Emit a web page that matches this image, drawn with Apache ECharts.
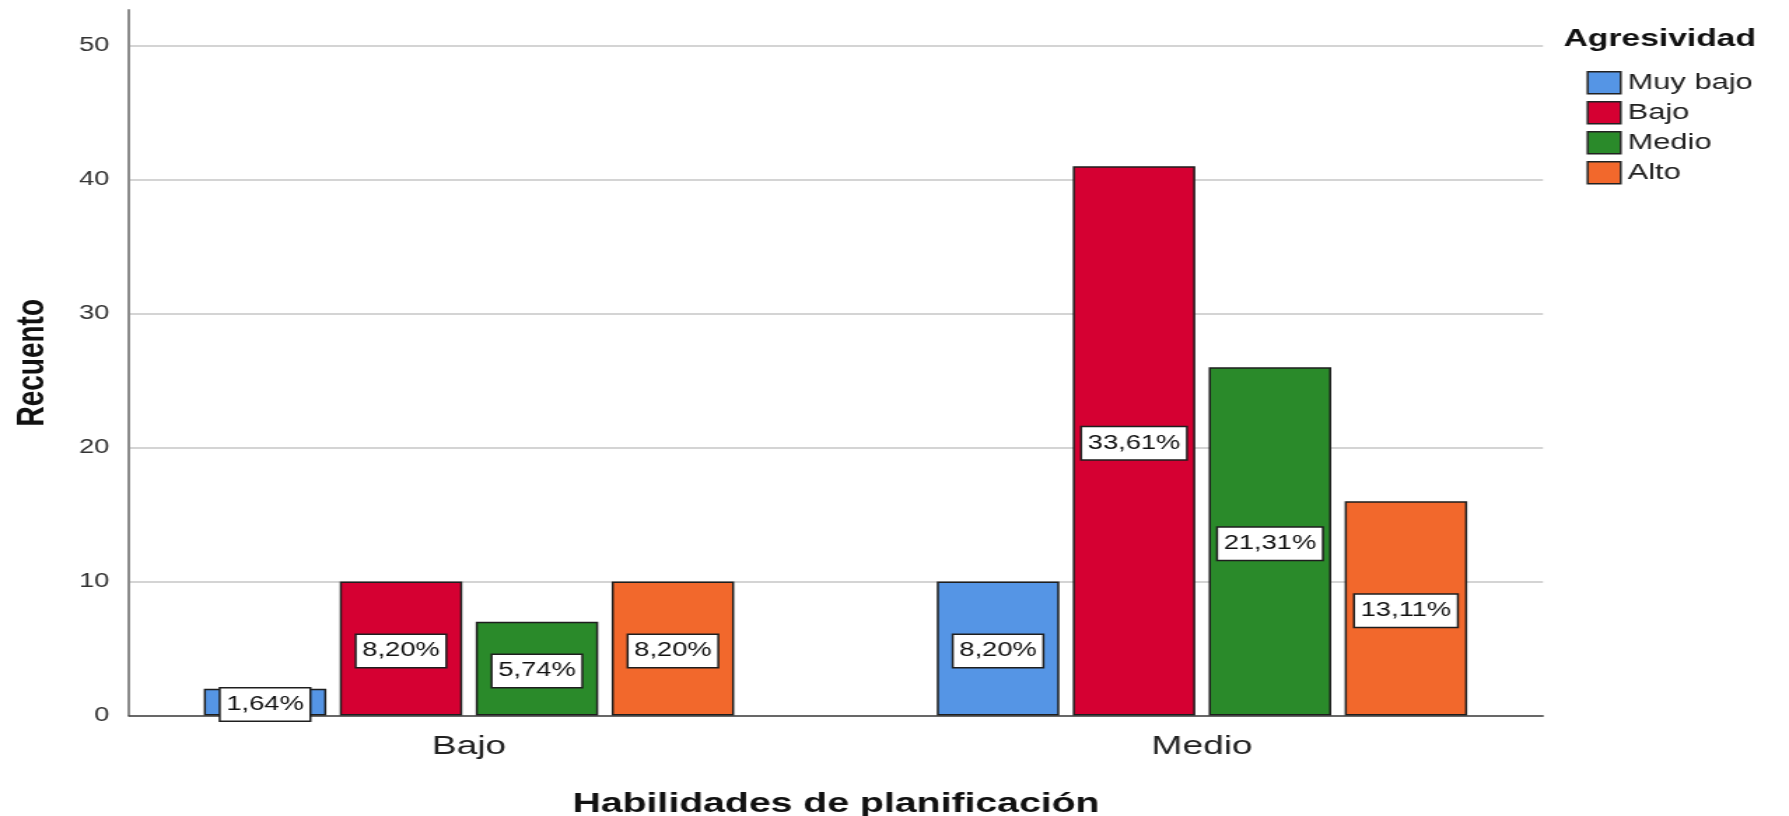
<!DOCTYPE html>
<html>
<head>
<meta charset="utf-8">
<script src="https://cdn.jsdelivr.net/npm/echarts@6/dist/echarts.min.js"></script>
<style>
  html, body { margin: 0; padding: 0; background: #fff; overflow: hidden; }
  #chart { width: 1278px; height: 816px; transform: scaleX(1.39984); transform-origin: 0 0; }
</style>
</head>
<body>
<div id="chart"></div>
<script>
// ---- data ----
const categories = ['Bajo', 'Medio'];
const seriesNames = ['Muy bajo', 'Bajo', 'Medio', 'Alto'];
const muyBajo = [2, 10];
const bajo = [10, 41];
const medio = [7, 26];
const alto = [10, 16];
const yTicks = [0, 10, 20, 30, 40, 50];
const colors = ['#5595e5', '#d50032', '#2a8a2a', '#f2682c'];

const allSeries = [muyBajo, bajo, medio, alto];
const total = allSeries.reduce((s, arr) => s + arr.reduce((a, b) => a + b, 0), 0);
const pct = v => (v / total * 100).toFixed(2).replace('.', ',') + '%';

const FONT = "'Liberation Sans', Arial, sans-serif";

const chart = echarts.init(document.getElementById('chart'), null, { renderer: 'canvas' });

const gridBars = { left: 73.2, top: 45.6, width: 1047.3, bottom: 100.5, outerBoundsMode: 'none', containLabel: false };
const gridAxes = { left: 92.15, top: 45.6, width: 1010.1, bottom: 100.5, outerBoundsMode: 'none', containLabel: false };
const gridLine = { left: 92.15, top: 10, width: 1, bottom: 100.5, outerBoundsMode: 'none', containLabel: false };

const series = seriesNames.map((name, i) => ({
  name,
  type: 'bar',
  xAxisIndex: 0,
  yAxisIndex: 0,
  data: allSeries[i],
  barWidth: 87.5,
  barGap: '11%',
  itemStyle: { color: colors[i], borderColor: '#1e1e1e', borderWidth: 1.5 },
  label: {
    show: true,
    position: 'inside',
    offset: [0, 2.5],
    formatter: p => pct(p.value),
    backgroundColor: '#ffffff',
    borderColor: '#1e1e1e',
    borderWidth: 1.5,
    padding: [6, 4],
    color: '#111',
    fontSize: 19.5,
    fontFamily: FONT
  },
  emphasis: { disabled: true },
  animation: false
}));

chart.setOption({
  backgroundColor: '#ffffff',
  animation: false,
  title: {
    text: 'Agresividad',
    left: 1117,
    top: 27,
    padding: 0,
    textStyle: { fontSize: 24, fontWeight: 'bold', color: '#111', fontFamily: FONT }
  },
  legend: {
    data: seriesNames,
    orient: 'vertical',
    left: 1133.4,
    top: 71,
    padding: 0,
    itemWidth: 23.6,
    itemHeight: 22,
    itemGap: 6.5,
    icon: 'rect',
    itemStyle: { borderColor: '#222', borderWidth: 1.5 },
    textStyle: { fontSize: 22, color: '#222', fontFamily: FONT },
    selectedMode: false
  },
  grid: [gridBars, gridAxes, gridLine],
  xAxis: [
    {
      gridIndex: 0, type: 'category', data: categories,
      axisLine: { show: false }, axisTick: { show: false },
      axisLabel: { fontSize: 26.5, color: '#222', margin: 18, fontFamily: FONT }
    },
    {
      gridIndex: 1, type: 'value', min: 0, max: 1,
      axisLine: { show: true, lineStyle: { color: '#444', width: 1.5 } },
      axisTick: { show: false }, axisLabel: { show: false }, splitLine: { show: false },
      name: 'Habilidades de planificación', nameLocation: 'middle', nameGap: 75,
      nameTextStyle: { fontSize: 28, fontWeight: 'bold', color: '#111', fontFamily: FONT }
    },
    { gridIndex: 2, type: 'value', show: false, min: 0, max: 1 }
  ],
  yAxis: [
    { gridIndex: 0, type: 'value', min: 0, max: 50, show: false },
    {
      gridIndex: 1, type: 'value', min: yTicks[0], max: yTicks[yTicks.length - 1], interval: 10,
      axisLine: { show: false }, axisTick: { show: false },
      axisLabel: { fontSize: 19.5, color: '#333', margin: 14, padding: [9, 0, 0, 0], fontFamily: FONT },
      splitLine: { show: true, lineStyle: { color: '#d4d4d4', width: 2 } }
    },
    {
      gridIndex: 2, type: 'value', min: 0, max: 1,
      axisLine: { show: true, lineStyle: { color: '#8c8c8c', width: 2 } },
      axisTick: { show: false }, axisLabel: { show: false }, splitLine: { show: false },
      name: 'Recuento', nameLocation: 'middle', nameGap: 55,
      nameTextStyle: { fontSize: 28, fontWeight: 'bold', color: '#111', fontFamily: FONT }
    }
  ],
  series
});
</script>
</body>
</html>
